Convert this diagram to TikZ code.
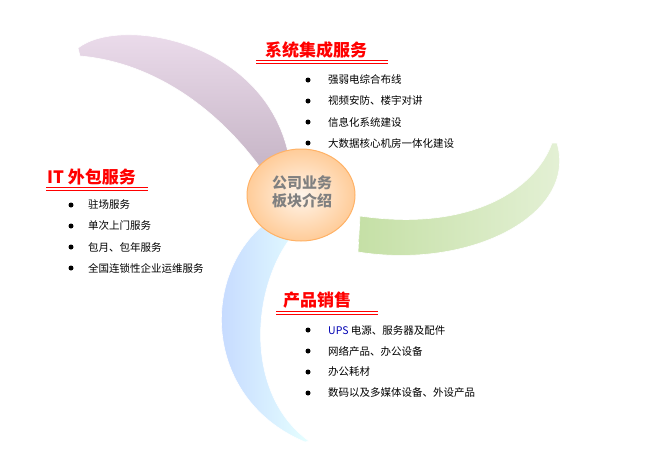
\documentclass[tikz,border=0pt]{standalone}
\usepackage{fontspec}
\setmainfont{Noto Sans CJK SC}
\usetikzlibrary{shapes.geometric}
\begin{document}
\begin{tikzpicture}[x=1pt,y=-1pt,
  item/.style={anchor=west,font=\fontsize{10.5}{12}\selectfont,inner sep=0pt},
  dot/.style={circle,fill=black,inner sep=0pt,minimum size=5pt},
  ttl/.style={anchor=west,text=red,font=\fontsize{17}{20}\selectfont\bfseries,inner sep=1pt},
  blade/.style={draw=white,line width=0.6pt}]
\useasboundingbox (0,0) rectangle (668,456);
% purple blade
\path[blade,top color=violet!12,bottom color=violet!30!gray!45] (78,48) .. controls (120,15) and (270,40) .. (290,162)
  -- (262,170) .. controls (215,105) and (150,62) .. (80,56) -- cycle;
% green blade
\path[blade,left color=green!30!olive!35,right color=green!30!olive!15] (557,143) .. controls (578,215) and (470,270) .. (358,252)
  -- (360,216) .. controls (470,232) and (535,190) .. (552,143) -- cycle;
% blue blade
\path[blade,left color=cyan!30!blue!25,right color=cyan!10] (262,226) .. controls (200,280) and (205,400) .. (305,442)
  -- (309,441) .. controls (245,395) and (250,290) .. (292,236) -- cycle;
\node[ellipse,minimum width=108pt,minimum height=92pt,draw=orange!60,line width=1pt,
  inner color=orange!8,outer color=orange!40] (c) at (301,195) {};
\node[text=gray,font=\fontsize{15}{18}\selectfont\bfseries,align=center] (ct) at (302,192) {公司业务\\板块介绍};
% titles
\node[ttl] (t1) at (264,50) {系统集成服务};
\draw[red,thick] (256,60) -- (388,60) (256,63) -- (388,63);
\node[ttl] (t2) at (46,177) {IT 外包服务};
\draw[red,thick] (46,187) -- (148,187) (46,190) -- (148,190);
\node[ttl] (t3) at (282,300) {产品销售};
\draw[red,thick] (276,311) -- (378,311) (276,314) -- (378,314);
% items
\foreach \y/\t [count=\i] in {80/强弱电综合布线,101/{视频安防、楼宇对讲},122/信息化系统建设,143/大数据核心机房一体化建设}{
  \node[dot] (a\i) at (308,\y) {}; \node[item] (b\i) at (328,\y) {\t};}
\foreach \y/\t [count=\i] in {205/驻场服务,226/单次上门服务,247/{包月、包年服务},268/全国连锁性企业运维服务}{
  \node[dot] (c\i) at (71,\y) {}; \node[item] (d\i) at (88,\y) {\t};}
\foreach \y/\t [count=\i] in {330/{\textcolor{blue!70!black}{UPS} 电源、服务器及配件},351/{网络产品、办公设备},372/办公耗材,393/{数码以及多媒体设备、外设产品}}{
  \node[dot] (e\i) at (308,\y) {}; \node[item] (f\i) at (328,\y) {\t};}
\end{tikzpicture}
\end{document}
